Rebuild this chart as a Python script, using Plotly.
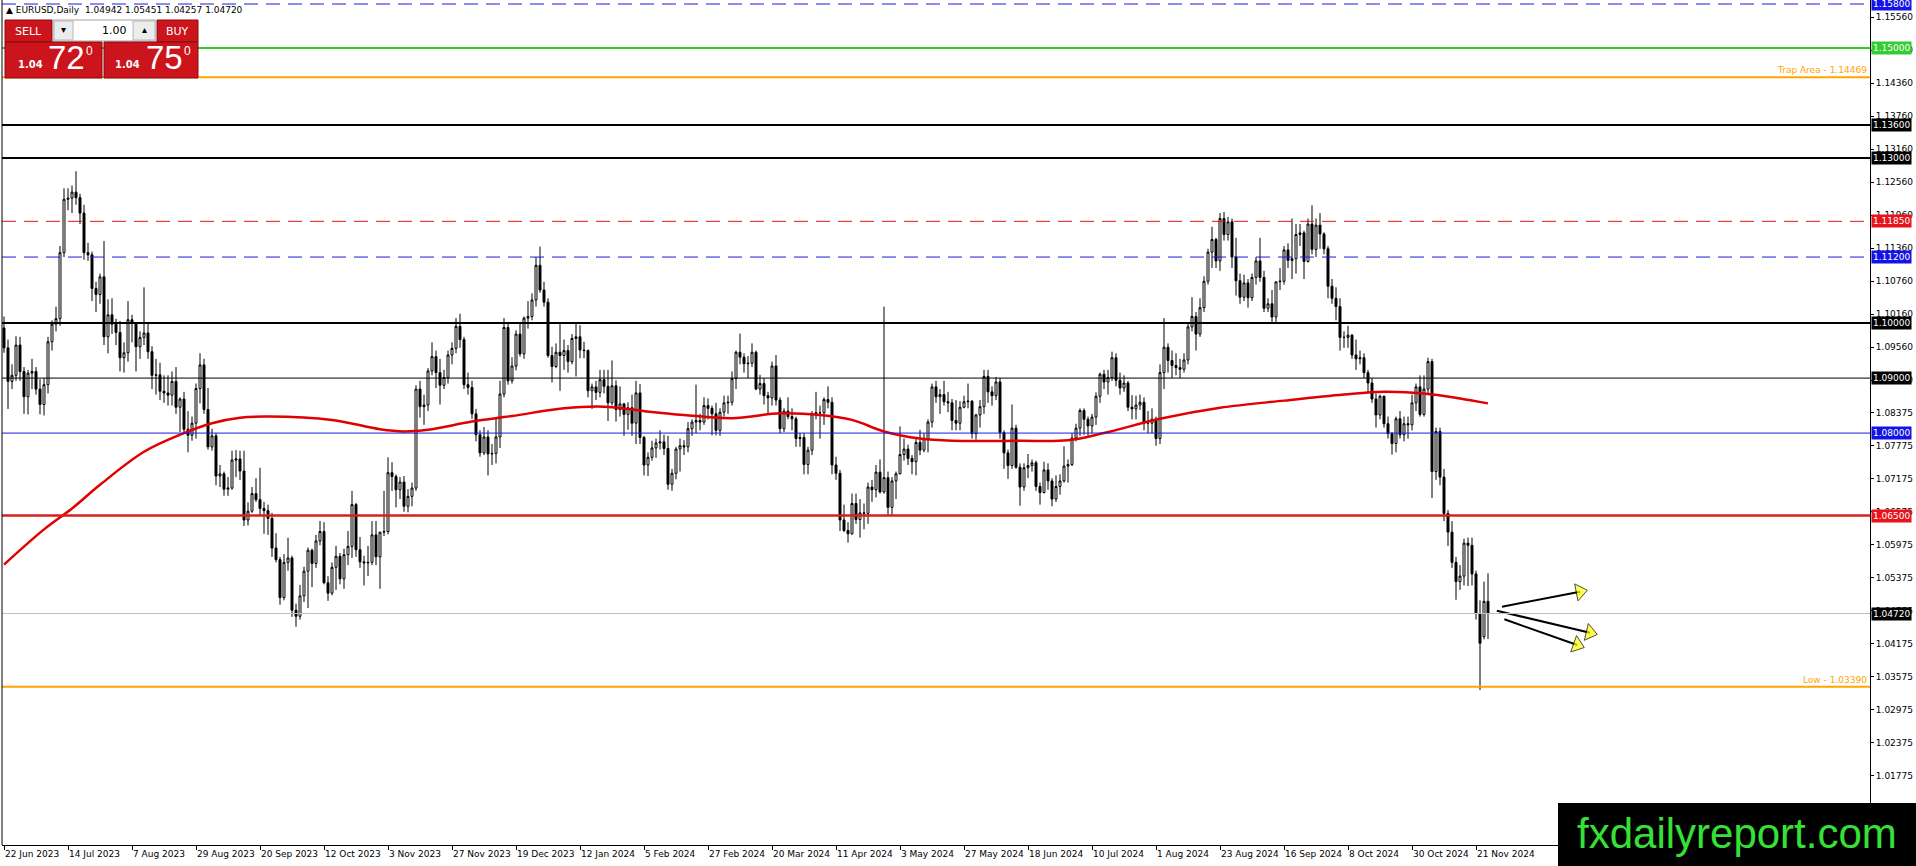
import plotly.graph_objects as go

# ---------------- data ----------------
header = "▲ EURUSD,Daily  1.04942 1.05451 1.04257 1.04720"

# daily bars 22 Jun 2023 .. 26 Nov 2024, one week per line
opens = [
    1.0991, 1.0955,
    1.0894, 1.0905, 1.0960, 1.0912, 1.0866,
    1.0909, 1.0912, 1.0880, 1.0852, 1.0888,
    1.0966, 1.0998, 1.1008, 1.1128, 1.1225,
    1.1227, 1.1238, 1.1228, 1.1200, 1.1128,
    1.1124, 1.1063, 1.1052, 1.1084, 1.0975,
    1.1015, 1.0998, 1.0983, 1.0937, 1.0946,
    1.1006, 1.0999, 1.0957, 1.0974, 1.0982,
    1.0948, 1.0905, 1.0906, 1.0876, 1.0873,
    1.0869, 1.0894, 1.0847, 1.0862, 1.0807,
    1.0796, 1.0818, 1.0881, 1.0924, 1.0843,
    1.0775, 1.0795, 1.0722, 1.0726, 1.0698,
    1.0700, 1.0751, 1.0753, 1.0731, 1.0642,
    1.0658, 1.0690, 1.0679, 1.0663, 1.0659,
    1.0645, 1.0591, 1.0570, 1.0501, 1.0565,
    1.0573, 1.0478, 1.0467, 1.0504, 1.0549,
    1.0587, 1.0563, 1.0604, 1.0621, 1.0528,
    1.0509, 1.0556, 1.0576, 1.0535, 1.0579,
    1.0594, 1.0670, 1.0588, 1.0566, 1.0564,
    1.0565, 1.0615, 1.0575, 1.0620, 1.0621,
    1.0728, 1.0721, 1.0697, 1.0711, 1.0667,
    1.0685, 1.0700, 1.0880, 1.0848, 1.0851,
    1.0913, 1.0939, 1.0910, 1.0887, 1.0901,
    1.0942, 1.0954, 1.0994, 1.0970, 1.0888,
    1.0883, 1.0835, 1.0797, 1.0764, 1.0793,
    1.0762, 1.0763, 1.0793, 1.0871, 1.0992,
    1.0895, 1.0922, 1.0980, 1.0944, 1.1009,
    1.1012, 1.1042, 1.1105, 1.1060,
    1.1038, 1.0941, 1.0921, 1.0947,
    1.0941, 1.0950, 1.0930, 1.0972, 1.0975,
    1.0951, 1.0950, 1.0877, 1.0884, 1.0874,
    1.0897, 1.0885, 1.0855, 1.0886, 1.0843,
    1.0853, 1.0834, 1.0846, 1.0818, 1.0873,
    1.0792, 1.0742, 1.0756, 1.0773, 1.0782,
    1.0784, 1.0772, 1.0707, 1.0727, 1.0771,
    1.0777, 1.0775, 1.0808, 1.0820, 1.0823,
    1.0820, 1.0850, 1.0845, 1.0835, 1.0805,
    1.0838, 1.0855, 1.0856, 1.0899, 1.0947,
    1.0938, 1.0926, 1.0927, 1.0947, 1.0880,
    1.0890, 1.0868, 1.0864, 1.0922, 1.0860,
    1.0808, 1.0840, 1.0830, 1.0826, 1.0790,
    1.0792, 1.0743, 1.0769, 1.0835, 1.0837,
    1.0837, 1.0861, 1.0856, 1.0742, 1.0727,
    1.0642, 1.0623, 1.0617, 1.0672, 1.0643,
    1.0655, 1.0654, 1.0702, 1.0697, 1.0729,
    1.0693, 1.0719, 1.0665, 1.0713, 1.0726,
    1.0761, 1.0771, 1.0754, 1.0748, 1.0783,
    1.0769, 1.0790, 1.0820, 1.0884, 1.0866,
    1.0870, 1.0857, 1.0855, 1.0823, 1.0818,
    1.0847, 1.0857, 1.0858, 1.0799, 1.0833,
    1.0848, 1.0903, 1.0875, 1.0868, 1.0893,
    1.0801, 1.0764, 1.0741, 1.0809, 1.0738,
    1.0702, 1.0737, 1.0741, 1.0746, 1.0703,
    1.0692, 1.0733, 1.0713, 1.0680, 1.0703,
    1.0713, 1.0740, 1.0743, 1.0791, 1.0809,
    1.0841, 1.0825, 1.0813, 1.0829, 1.0867,
    1.0907, 1.0893, 1.0901, 1.0937, 1.0896,
    1.0882, 1.0891, 1.0847, 1.0844, 1.0851,
    1.0856, 1.0818, 1.0818, 1.0825, 1.0790,
    1.0910, 1.0956, 1.0932, 1.0923, 1.0919,
    1.0916, 1.0933, 1.0993, 1.1012, 1.0980,
    1.1028, 1.1076, 1.1129, 1.1152, 1.1113,
    1.1190, 1.1161, 1.1184, 1.1120, 1.1077,
    1.1047, 1.1073, 1.1046, 1.1083, 1.1113,
    1.1083, 1.1027, 1.1035, 1.1011, 1.1075,
    1.1076, 1.1133, 1.1114, 1.1117, 1.1161,
    1.1164, 1.1112, 1.1180, 1.1134, 1.1178,
    1.1162, 1.1135, 1.1067, 1.1045, 1.1030,
    1.0974, 1.0974, 1.0978, 1.0942, 1.0935,
    1.0937, 1.0910, 1.0891, 1.0862, 1.0833,
    1.0867, 1.0817, 1.0799, 1.0781, 1.0826,
    1.0797, 1.0817, 1.0815, 1.0855, 1.0884,
    1.0834, 1.0880, 1.0930, 1.0730, 1.0803,
    1.0720, 1.0654, 1.0620, 1.0565, 1.0530,
    1.0540, 1.0600, 1.0596, 1.0544, 1.0472,
    1.0430, 1.04942,
]
highs = [
    1.1012, 1.0970,
    1.0925, 1.0976, 1.0975, 1.0920, 1.0915,
    1.0935, 1.0920, 1.0898, 1.0900, 1.0975,
    1.1005, 1.1030, 1.1140, 1.1245, 1.1245,
    1.1250, 1.1276, 1.1235, 1.1215, 1.1146,
    1.1130, 1.1075, 1.1090, 1.1149, 1.1043,
    1.1045, 1.1008, 1.1004, 1.0965, 1.1040,
    1.1015, 1.1000, 1.0985, 1.1065, 1.1000,
    1.0958, 1.0935, 1.0928, 1.0905, 1.0905,
    1.0912, 1.0920, 1.0865, 1.0875, 1.0840,
    1.0830, 1.0890, 1.0945, 1.0935, 1.0882,
    1.0808, 1.0800, 1.0742, 1.0730, 1.0720,
    1.0768, 1.0769, 1.0768, 1.0768, 1.0674,
    1.0702, 1.0718, 1.0737, 1.0675, 1.0670,
    1.0655, 1.0618, 1.0575, 1.0580, 1.0610,
    1.0577, 1.0490, 1.0524, 1.0557, 1.0592,
    1.0590, 1.0615, 1.0640, 1.0638, 1.0540,
    1.0565, 1.0595, 1.0582, 1.0590, 1.0622,
    1.0695, 1.0673, 1.0611, 1.0577, 1.0595,
    1.0640, 1.0640, 1.0620, 1.0695, 1.0756,
    1.0747, 1.0725, 1.0720, 1.0722, 1.0698,
    1.0710, 1.0887, 1.0895, 1.0870, 1.0918,
    1.0965, 1.0950, 1.0935, 1.0915, 1.0950,
    1.0965, 1.1009, 1.1017, 1.0975, 1.0910,
    1.0895, 1.0844, 1.0805, 1.0811, 1.0805,
    1.0780, 1.0828, 1.0895, 1.1009, 1.1000,
    1.0938, 1.0987, 1.1000, 1.1012, 1.1040,
    1.1054, 1.1120, 1.1139, 1.1075,
    1.1045, 1.0957, 1.0963, 1.0998,
    1.0970, 1.0960, 1.0980, 1.0999, 1.0996,
    1.0966, 1.0952, 1.0890, 1.0895, 1.0915,
    1.0915, 1.0915, 1.0932, 1.0896, 1.0885,
    1.0855, 1.0856, 1.0870, 1.0895, 1.0889,
    1.0795, 1.0765, 1.0786, 1.0790, 1.0805,
    1.0797, 1.0795, 1.0735, 1.0775, 1.0790,
    1.0787, 1.0820, 1.0825, 1.0888, 1.0835,
    1.0865, 1.0863, 1.0850, 1.0855, 1.0845,
    1.0868, 1.0868, 1.0912, 1.0950, 1.0981,
    1.0945, 1.0940, 1.0963, 1.0950, 1.0906,
    1.0900, 1.0875, 1.0930, 1.0942, 1.0865,
    1.0845, 1.0865, 1.0845, 1.0830, 1.0800,
    1.0800, 1.0775, 1.0840, 1.0875, 1.0850,
    1.0865, 1.0885, 1.0865, 1.0757, 1.0733,
    1.0670, 1.0638, 1.0690, 1.0690, 1.0680,
    1.0672, 1.0710, 1.0715, 1.0742, 1.0752,
    1.1030, 1.0730, 1.0720, 1.0730, 1.0812,
    1.0790, 1.0779, 1.0760, 1.0790, 1.0806,
    1.0800, 1.0825, 1.0890, 1.0895, 1.0880,
    1.0895, 1.0875, 1.0862, 1.0860, 1.0858,
    1.0868, 1.0890, 1.0860, 1.0835, 1.0860,
    1.0915, 1.0915, 1.0885, 1.0902, 1.0900,
    1.0805, 1.0770, 1.0852, 1.0815, 1.0745,
    1.0745, 1.0762, 1.0752, 1.0750, 1.0710,
    1.0748, 1.0745, 1.0718, 1.0723, 1.0725,
    1.0776, 1.0752, 1.0800, 1.0817, 1.0845,
    1.0845, 1.0830, 1.0835, 1.0874, 1.0910,
    1.0915, 1.0915, 1.0948, 1.0945, 1.0910,
    1.0905, 1.0895, 1.0869, 1.0868, 1.0870,
    1.0865, 1.0840, 1.0845, 1.0830, 1.0925,
    1.1009, 1.0963, 1.0950, 1.0945, 1.0935,
    1.0945, 1.1000, 1.1047, 1.1020, 1.1045,
    1.1085, 1.1135, 1.1175, 1.1155, 1.1200,
    1.1202, 1.1193, 1.1190, 1.1155, 1.1090,
    1.1088, 1.1080, 1.1090, 1.1120, 1.1155,
    1.1095, 1.1045, 1.1060, 1.1075, 1.1100,
    1.1140, 1.1145, 1.1190, 1.1180, 1.1180,
    1.1168, 1.1190, 1.1214, 1.1190, 1.1200,
    1.1165, 1.1140, 1.1080, 1.1065, 1.1045,
    1.0985, 1.0995, 1.0980, 1.0970, 1.0950,
    1.0945, 1.0915, 1.0900, 1.0872, 1.0870,
    1.0868, 1.0830, 1.0802, 1.0830, 1.0840,
    1.0830, 1.0830, 1.0870, 1.0890, 1.0905,
    1.0905, 1.0937, 1.0935, 1.0810, 1.0810,
    1.0735, 1.0660, 1.0640, 1.0575, 1.0560,
    1.0608, 1.0610, 1.0610, 1.0550, 1.0496,
    1.0530, 1.05451,
]
lows = [
    1.0946, 1.0844,
    1.0880, 1.0895, 1.0895, 1.0835, 1.0834,
    1.0880, 1.0870, 1.0834, 1.0832, 1.0872,
    1.0950, 1.0985, 1.0995, 1.1120, 1.1205,
    1.1200, 1.1215, 1.1180, 1.1115, 1.1113,
    1.1040, 1.1020, 1.1035, 1.0960, 1.0945,
    1.0980, 1.0960, 1.0912, 1.0910, 1.0930,
    1.0965, 1.0912, 1.0935, 1.0960, 1.0935,
    1.0880, 1.0870, 1.0860, 1.0855, 1.0850,
    1.0850, 1.0835, 1.0802, 1.0800, 1.0765,
    1.0786, 1.0790, 1.0854, 1.0835, 1.0770,
    1.0768, 1.0705, 1.0702, 1.0686, 1.0686,
    1.0697, 1.0720, 1.0715, 1.0631, 1.0632,
    1.0655, 1.0675, 1.0650, 1.0617, 1.0615,
    1.0575, 1.0565, 1.0488, 1.0496, 1.0550,
    1.0466, 1.0448, 1.0461, 1.0493, 1.0482,
    1.0520, 1.0555, 1.0596, 1.0525, 1.0495,
    1.0505, 1.0515, 1.0525, 1.0517, 1.0560,
    1.0573, 1.0575, 1.0555, 1.0523, 1.0540,
    1.0560, 1.0560, 1.0517, 1.0613, 1.0616,
    1.0695, 1.0665, 1.0680, 1.0657, 1.0656,
    1.0667, 1.0695, 1.0828, 1.0815, 1.0840,
    1.0905, 1.0882, 1.0852, 1.0880, 1.0890,
    1.0925, 1.0945, 1.0955, 1.0880, 1.0870,
    1.0826, 1.0785, 1.0757, 1.0760, 1.0723,
    1.0742, 1.0745, 1.0773, 1.0865, 1.0888,
    1.0890, 1.0914, 1.0939, 1.0935, 1.0990,
    1.1005, 1.1030, 1.1055, 1.1030,
    1.0937, 1.0892, 1.0918, 1.0877,
    1.0915, 1.0910, 1.0925, 1.0903, 1.0936,
    1.0936, 1.0865, 1.0844, 1.0860, 1.0865,
    1.0872, 1.0822, 1.0850, 1.0821, 1.0830,
    1.0795, 1.0806, 1.0795, 1.0780, 1.0780,
    1.0723, 1.0722, 1.0750, 1.0755, 1.0770,
    1.0760, 1.0697, 1.0695, 1.0716, 1.0730,
    1.0760, 1.0765, 1.0795, 1.0800, 1.0805,
    1.0815, 1.0825, 1.0796, 1.0796, 1.0795,
    1.0830, 1.0835, 1.0850, 1.0880, 1.0925,
    1.0910, 1.0900, 1.0920, 1.0878, 1.0870,
    1.0852, 1.0835, 1.0850, 1.0850, 1.0800,
    1.0802, 1.0825, 1.0805, 1.0775, 1.0775,
    1.0725, 1.0725, 1.0760, 1.0825, 1.0790,
    1.0815, 1.0845, 1.0725, 1.0715, 1.0622,
    1.0620, 1.0601, 1.0615, 1.0635, 1.0610,
    1.0625, 1.0635, 1.0675, 1.0683, 1.0690,
    1.0690, 1.0650, 1.0650, 1.0680, 1.0725,
    1.0750, 1.0742, 1.0725, 1.0723, 1.0760,
    1.0765, 1.0765, 1.0810, 1.0855, 1.0835,
    1.0850, 1.0838, 1.0805, 1.0805, 1.0805,
    1.0845, 1.0845, 1.0790, 1.0788, 1.0810,
    1.0835, 1.0855, 1.0850, 1.0860, 1.0790,
    1.0735, 1.0717, 1.0735, 1.0735, 1.0668,
    1.0695, 1.0718, 1.0730, 1.0695, 1.0670,
    1.0690, 1.0697, 1.0667, 1.0675, 1.0688,
    1.0710, 1.0710, 1.0740, 1.0785, 1.0795,
    1.0797, 1.0795, 1.0800, 1.0815, 1.0855,
    1.0880, 1.0870, 1.0895, 1.0885, 1.0870,
    1.0875, 1.0840, 1.0825, 1.0825, 1.0842,
    1.0805, 1.0800, 1.0800, 1.0777, 1.0780,
    1.0880, 1.0910, 1.0900, 1.0905, 1.0900,
    1.0910, 1.0925, 1.0985, 1.0950, 1.0975,
    1.1020, 1.1070, 1.1100, 1.1100, 1.1095,
    1.1150, 1.1150, 1.1100, 1.1050, 1.1035,
    1.1040, 1.1028, 1.1040, 1.1070, 1.1075,
    1.1020, 1.1020, 1.1001, 1.1000, 1.1060,
    1.1070, 1.1100, 1.1080, 1.1090, 1.1140,
    1.1080, 1.1110, 1.1125, 1.1120, 1.1135,
    1.1125, 1.1045, 1.1035, 1.1005, 1.0950,
    1.0955, 1.0955, 1.0935, 1.0915, 1.0925,
    1.0900, 1.0875, 1.0855, 1.0810, 1.0825,
    1.0810, 1.0790, 1.0761, 1.0765, 1.0790,
    1.0785, 1.0790, 1.0805, 1.0840, 1.0830,
    1.0830, 1.0870, 1.0682, 1.0715, 1.0705,
    1.0640, 1.0595, 1.0555, 1.0497, 1.0515,
    1.0523, 1.0522, 1.0523, 1.0461, 1.0333,
    1.0425, 1.04257,
]
closes = [
    1.0955, 1.0894,
    1.0905, 1.0960, 1.0912, 1.0866, 1.0909,
    1.0912, 1.0880, 1.0852, 1.0888, 1.0966,
    1.0998, 1.1008, 1.1128, 1.1225, 1.1227,
    1.1238, 1.1228, 1.1200, 1.1128, 1.1124,
    1.1063, 1.1052, 1.1084, 1.0975, 1.1015,
    1.0998, 1.0983, 1.0937, 1.0946, 1.1006,
    1.0999, 1.0957, 1.0974, 1.0982, 1.0948,
    1.0905, 1.0906, 1.0876, 1.0873, 1.0869,
    1.0894, 1.0847, 1.0862, 1.0807, 1.0796,
    1.0818, 1.0881, 1.0924, 1.0843, 1.0775,
    1.0795, 1.0722, 1.0726, 1.0698, 1.0700,
    1.0751, 1.0753, 1.0731, 1.0642, 1.0658,
    1.0690, 1.0679, 1.0663, 1.0659, 1.0645,
    1.0591, 1.0570, 1.0501, 1.0565, 1.0573,
    1.0478, 1.0467, 1.0504, 1.0549, 1.0587,
    1.0563, 1.0604, 1.0621, 1.0528, 1.0509,
    1.0556, 1.0576, 1.0535, 1.0579, 1.0594,
    1.0670, 1.0588, 1.0566, 1.0564, 1.0565,
    1.0615, 1.0575, 1.0620, 1.0621, 1.0728,
    1.0721, 1.0697, 1.0711, 1.0667, 1.0685,
    1.0700, 1.0880, 1.0848, 1.0851, 1.0913,
    1.0939, 1.0910, 1.0887, 1.0901, 1.0942,
    1.0954, 1.0994, 1.0970, 1.0888, 1.0883,
    1.0835, 1.0797, 1.0764, 1.0793, 1.0762,
    1.0763, 1.0793, 1.0871, 1.0992, 1.0895,
    1.0922, 1.0980, 1.0944, 1.1009, 1.1012,
    1.1042, 1.1105, 1.1060, 1.1038,
    1.0941, 1.0921, 1.0947, 1.0941,
    1.0950, 1.0930, 1.0972, 1.0975, 1.0951,
    1.0950, 1.0877, 1.0884, 1.0874, 1.0897,
    1.0885, 1.0855, 1.0886, 1.0843, 1.0853,
    1.0834, 1.0846, 1.0818, 1.0873, 1.0792,
    1.0742, 1.0756, 1.0773, 1.0782, 1.0784,
    1.0772, 1.0707, 1.0727, 1.0771, 1.0777,
    1.0775, 1.0808, 1.0820, 1.0823, 1.0820,
    1.0850, 1.0845, 1.0835, 1.0805, 1.0838,
    1.0855, 1.0856, 1.0899, 1.0947, 1.0938,
    1.0926, 1.0927, 1.0947, 1.0880, 1.0890,
    1.0868, 1.0864, 1.0922, 1.0860, 1.0808,
    1.0840, 1.0830, 1.0826, 1.0790, 1.0792,
    1.0743, 1.0769, 1.0835, 1.0837, 1.0837,
    1.0861, 1.0856, 1.0742, 1.0727, 1.0642,
    1.0623, 1.0617, 1.0672, 1.0643, 1.0655,
    1.0654, 1.0702, 1.0697, 1.0729, 1.0693,
    1.0719, 1.0665, 1.0713, 1.0726, 1.0761,
    1.0771, 1.0754, 1.0748, 1.0783, 1.0769,
    1.0790, 1.0820, 1.0884, 1.0866, 1.0870,
    1.0857, 1.0855, 1.0823, 1.0818, 1.0847,
    1.0857, 1.0858, 1.0799, 1.0833, 1.0848,
    1.0903, 1.0875, 1.0868, 1.0893, 1.0801,
    1.0764, 1.0741, 1.0809, 1.0738, 1.0702,
    1.0737, 1.0741, 1.0746, 1.0703, 1.0692,
    1.0733, 1.0713, 1.0680, 1.0703, 1.0713,
    1.0740, 1.0743, 1.0791, 1.0809, 1.0841,
    1.0825, 1.0813, 1.0829, 1.0867, 1.0907,
    1.0893, 1.0901, 1.0937, 1.0896, 1.0882,
    1.0891, 1.0847, 1.0844, 1.0851, 1.0856,
    1.0818, 1.0818, 1.0825, 1.0790, 1.0910,
    1.0956, 1.0932, 1.0923, 1.0919, 1.0916,
    1.0933, 1.0993, 1.1012, 1.0980, 1.1028,
    1.1076, 1.1129, 1.1152, 1.1113, 1.1190,
    1.1161, 1.1184, 1.1120, 1.1077, 1.1047,
    1.1073, 1.1046, 1.1083, 1.1113, 1.1083,
    1.1027, 1.1035, 1.1011, 1.1075, 1.1076,
    1.1133, 1.1114, 1.1117, 1.1161, 1.1164,
    1.1112, 1.1180, 1.1134, 1.1178, 1.1162,
    1.1135, 1.1067, 1.1045, 1.1030, 1.0974,
    1.0974, 1.0978, 1.0942, 1.0935, 1.0937,
    1.0910, 1.0891, 1.0862, 1.0833, 1.0867,
    1.0817, 1.0799, 1.0781, 1.0826, 1.0797,
    1.0817, 1.0815, 1.0855, 1.0884, 1.0834,
    1.0880, 1.0930, 1.0730, 1.0803, 1.0720,
    1.0654, 1.0620, 1.0565, 1.0530, 1.0540,
    1.0600, 1.0596, 1.0544, 1.0472, 1.0418,
    1.0494, 1.04720,
]
bars = list(range(len(closes)))

# moving average, read at sample bars
ma_bar = [0, 10, 17, 24, 35, 45, 52, 59, 66, 82, 94, 100, 106, 117, 127, 140,
          150, 160, 170, 182, 194, 204, 212, 220, 229, 237, 254, 266, 275, 289,
          304, 320, 335, 345, 355, 364, 371]
ma_val = [1.0561, 1.0625, 1.0663, 1.0706, 1.0766, 1.0800, 1.0818, 1.0828, 1.0830,
          1.0824, 1.0807, 1.0803, 1.0806, 1.0821, 1.0831, 1.0845, 1.0848, 1.0840,
          1.0833, 1.0827, 1.0836, 1.0833, 1.0824, 1.0803, 1.0790, 1.0786, 1.0786,
          1.0787, 1.0800, 1.0826, 1.0846, 1.0859, 1.0870, 1.0875, 1.0872, 1.0863,
          1.0854]

# date labels every 16 bars
x_labels = ["22 Jun 2023", "14 Jul 2023", "7 Aug 2023", "29 Aug 2023", "20 Sep 2023",
            "12 Oct 2023", "3 Nov 2023", "27 Nov 2023", "19 Dec 2023", "12 Jan 2024",
            "5 Feb 2024", "27 Feb 2024", "20 Mar 2024", "11 Apr 2024", "3 May 2024",
            "27 May 2024", "18 Jun 2024", "10 Jul 2024", "1 Aug 2024", "23 Aug 2024",
            "16 Sep 2024", "8 Oct 2024", "30 Oct 2024", "21 Nov 2024"]
label_step = 16

y_ticks = [1.15560, 1.14960, 1.14360, 1.13760, 1.13160, 1.12560, 1.11960, 1.11360,
           1.10760, 1.10160, 1.09560, 1.08960, 1.08375, 1.07775, 1.07175, 1.06575,
           1.05975, 1.05375, 1.04775, 1.04175, 1.03575, 1.02975, 1.02375, 1.01775,
           1.01175]

# horizontal levels drawn on the chart
levels = [1.15800, 1.15000, 1.14469, 1.13600, 1.13000, 1.11850, 1.11200,
          1.10000, 1.09000, 1.08000, 1.06500, 1.04720, 1.03390]
level_names = {1.14469: "Trap Area - 1.14469", 1.03390: "Low - 1.03390"}
boxed = [1.15800, 1.15000, 1.13600, 1.13000, 1.11850, 1.11200,
         1.10000, 1.09000, 1.08000, 1.06500, 1.04720]

# three drawn arrows: tail bar/price -> head bar/price
arrow_x0 = [374.5, 373.2, 375.1]
arrow_y0 = [1.04844, 1.04771, 1.04615]
arrow_x1 = [394.0, 396.5, 393.3]
arrow_y1 = [1.05117, 1.04371, 1.04147]

# ---------------- styles ----------------
W, H = 1916, 866
ML, MR, MT, MB = 2, 46, 0, 21
PW, PH = W - ML - MR, H - MT - MB
FONT = "DejaVu Sans"

lvl_style = {
    1.15800: ("#1a1adc", 1, "14px,8px"),
    1.15000: ("#32cd32", 2, "solid"),
    1.14469: ("#ffa500", 2, "solid"),
    1.13600: ("black", 2, "solid"),
    1.13000: ("black", 2, "solid"),
    1.11850: ("#e01010", 1, "14px,8px"),
    1.11200: ("#1a1adc", 1, "14px,8px"),
    1.10000: ("black", 2, "solid"),
    1.09000: ("black", 1, "solid"),
    1.08000: ("#1a1adc", 1, "solid"),
    1.06500: ("#d81e1e", 2.5, "solid"),
    1.04720: ("#c0c0c0", 1, "solid"),
    1.03390: ("#ffa500", 2, "solid"),
}
box_bg = {1.15800: "#1414e6", 1.15000: "#32cd32", 1.13600: "black", 1.13000: "black",
          1.11850: "#e8141c", 1.11200: "#1414e6", 1.10000: "black", 1.09000: "black",
          1.08000: "#1414e6", 1.06500: "#e8141c", 1.04720: "black"}


def px(x):
    return (x - ML) / PW


def py(y):
    return 1 - (y - MT) / PH


fig = go.Figure()

fig.add_trace(go.Candlestick(
    x=bars, open=opens, high=highs, low=lows, close=closes,
    increasing=dict(fillcolor="white", line=dict(color="black", width=1)),
    decreasing=dict(fillcolor="black", line=dict(color="black", width=1)),
    whiskerwidth=0, hoverinfo="skip", showlegend=False))

fig.add_trace(go.Scatter(x=ma_bar, y=ma_val, mode="lines",
                         line=dict(color="#e00000", width=2.5, shape="spline"),
                         hoverinfo="skip", showlegend=False))

for x0, y0, x1, y1 in zip(arrow_x0, arrow_y0, arrow_x1, arrow_y1):
    fig.add_trace(go.Scatter(
        x=[x0, x1], y=[y0, y1], mode="lines+markers",
        line=dict(color="black", width=2),
        marker=dict(symbol="triangle-up", size=[0, 15], color="#ffff00",
                    angleref="previous", line=dict(color="black", width=1)),
        hoverinfo="skip", showlegend=False))

shapes = []
annots = []
for v in levels:
    col, w, dash = lvl_style[v]
    shapes.append(dict(type="line", xref="paper", x0=0, x1=1, yref="y", y0=v, y1=v,
                       line=dict(color=col, width=w, dash=dash), layer="above"))
    if v in level_names:
        annots.append(dict(text=level_names[v], xref="paper", x=1, xanchor="right", xshift=-1,
                           yref="y", y=v, yanchor="bottom", yshift=0, showarrow=False,
                           font=dict(family=FONT, size=9, color="#ffa500")))
for v in boxed:
    annots.append(dict(text=f"{v:.5f}", xref="paper", x=1, xanchor="left", xshift=1,
                       yref="y", y=v, yanchor="middle", showarrow=False,
                       bgcolor=box_bg[v], borderpad=1,
                       font=dict(family=FONT, size=9, color="white")))

# left frame line
shapes.append(dict(type="line", xref="paper", yref="paper", x0=0, x1=0, y0=0, y1=1,
                   line=dict(color="black", width=1), layer="above"))


# one-click trading panel
def rect(x0, y0, x1, y1, fill, edge):
    shapes.append(dict(type="rect", xref="paper", yref="paper",
                       x0=px(x0), x1=px(x1), y0=py(y1), y1=py(y0),
                       fillcolor=fill, line=dict(color=edge, width=1), layer="above"))


def label(x, y, text, size, color="white", anchor="center", bold=False, family=FONT):
    if bold:
        text = "<b>" + text + "</b>"
    annots.append(dict(text=text, xref="paper", yref="paper", x=px(x), y=py(y),
                       xanchor=anchor, yanchor="middle", showarrow=False,
                       font=dict(family=family, size=size, color=color)))


red, red_edge = "#cc141c", "#8a0a0e"
rect(5, 20, 52, 42, red, red_edge)
rect(157, 20, 198, 42, red, red_edge)
rect(53, 20, 156, 41, "white", "#a0a0a0")
rect(54, 21, 73, 40, "#ececec", "#b8b8b8")
rect(133, 21, 155, 40, "#ececec", "#b8b8b8")
rect(5, 42, 102, 78, red, red_edge)
rect(104, 42, 198, 78, red, red_edge)
label(28.5, 31, "SELL", 11)
label(177.5, 31, "BUY", 11)
label(63.5, 30, "▾", 10, "black")
label(144, 30, "▴", 10, "black")
label(129, 30.5, "1.00", 11, "black", anchor="right")
label(30, 65, "1.04", 10, bold=True)
label(66, 58, "72", 33, family="Liberation Sans")
label(89, 51, "0", 12, family="Liberation Sans")
label(128, 65, "1.04", 10, bold=True)
label(164, 58, "75", 33, family="Liberation Sans")
label(187, 51, "0", 12, family="Liberation Sans")

# header line
annots.append(dict(text=header, xref="paper", yref="paper", x=px(4), y=py(10),
                   xanchor="left", yanchor="middle", showarrow=False,
                   font=dict(family=FONT, size=9, color="black")))

# logo block bottom-right
shapes.append(dict(type="rect", xref="paper", yref="paper",
                   x0=px(1558), x1=px(1920), y0=py(870), y1=py(803),
                   fillcolor="black", line=dict(width=0), layer="above"))
annots.append(dict(text="fxdailyreport.com", xref="paper", yref="paper",
                   x=px(1737), y=py(833), xanchor="center", yanchor="middle",
                   showarrow=False,
                   font=dict(family="Liberation Sans", size=42, color="#36e036")))

fig.update_layout(
    width=W, height=H, margin=dict(l=ML, r=MR, t=MT, b=MB, autoexpand=False),
    plot_bgcolor="white", paper_bgcolor="white", showlegend=False,
    shapes=shapes, annotations=annots, hovermode=False,
)
fig.update_xaxes(
    range=[-0.5, 466.5], rangeslider=dict(visible=False),
    tickvals=[i * label_step for i in range(len(x_labels))], ticktext=x_labels,
    ticks="outside", ticklen=4, tickcolor="black", ticklabelposition="outside right",
    tickangle=0, automargin=False,
    showline=True, linecolor="black", linewidth=1, showgrid=False, zeroline=False,
    tickfont=dict(family=FONT, size=9, color="black"),
)
fig.update_yaxes(
    side="right", range=[1.00512, 1.15873], automargin=False,
    tickvals=y_ticks, ticktext=[f"{v:.5f}" for v in y_ticks],
    ticks="outside", ticklen=3, tickcolor="black",
    showline=True, linecolor="black", linewidth=1, showgrid=False, zeroline=False,
    tickfont=dict(family=FONT, size=9, color="black"),
)

print(len(opens), len(highs), len(lows), len(closes))
fig.write_html("out.html", config={"displayModeBar": False},
               post_script="document.body.style.margin='0';")
